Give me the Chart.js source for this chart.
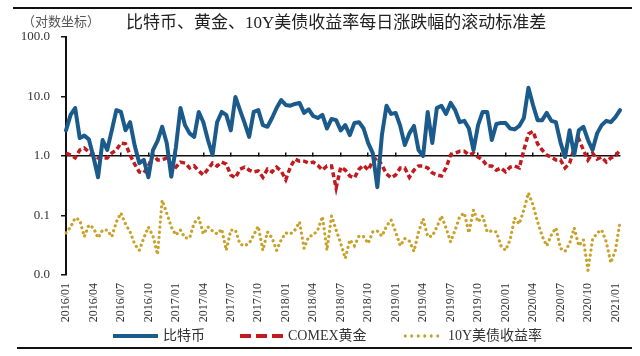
<!DOCTYPE html>
<html><head><meta charset="utf-8">
<script src="https://cdn.jsdelivr.net/npm/chart.js@4.4.1/dist/chart.umd.min.js"></script>
<style>
html,body{margin:0;padding:0;background:#fff;}
#wrap{position:relative;width:640px;height:356px;overflow:hidden;font-family:"Liberation Serif","Noto Sans CJK SC",serif;}
canvas{position:absolute;left:0;top:0;}
.rule{position:absolute;background:#111;}
.t{position:absolute;white-space:nowrap;line-height:1;}
.sw{position:absolute;}
</style></head><body>
<div id="wrap">
<canvas id="c" width="640" height="356"></canvas>
<div class="rule" style="left:13px;top:7px;width:619px;height:2px"></div>
<div class="t" style="left:22px;top:15px;font-size:13px;color:#555">（对数坐标）</div>
<div class="t" style="left:126px;top:14px;font-size:17px;color:#222">比特币、黄金、10Y美债收益率每日涨跌幅的滚动标准差</div>
<div class="sw" style="left:113px;top:334px;width:45px;height:4px;background:#1b5b8c"></div>
<div class="t" style="left:163px;top:329px;font-size:14px;color:#333">比特币</div>
<div class="sw" style="left:240px;top:334px;width:43px;height:4px;background:repeating-linear-gradient(90deg,#c21a1f 0 11px,transparent 11px 16px)"></div>
<div class="t" style="left:288px;top:329px;font-size:14px;color:#333">COMEX黄金</div>
<div class="sw" style="left:402px;top:334px;width:38px;height:4px;background:radial-gradient(circle,#c9a22c 1.5px,transparent 1.8px) 0 0/6.5px 4px repeat-x"></div>
<div class="t" style="left:448px;top:329px;font-size:14px;color:#333">10Y美债收益率</div>
<div class="rule" style="left:17px;top:347px;width:615px;height:2px"></div>
</div>
<script>
// quarterly tick labels
const tickLabels = ['2016/01','2016/04','2016/07','2016/10','2017/01','2017/04','2017/07','2017/10',
  '2018/01','2018/04','2018/07','2018/10','2019/01','2019/04','2019/07','2019/10',
  '2020/01','2020/04','2020/07','2020/10','2021/01'];
const yTicks = [0.01, 0.1, 1, 10, 100];
const yTickLabels = ['0.0','0.1','1.0','10.0','100.0'];
const seriesNames = ['比特币','COMEX黄金','10Y美债收益率'];

// semimonthly observation dates (2016/01 .. 2021/01)
const categories = [];
for (let y = 2016; y <= 2021; y++) {
  for (let m = 1; m <= 12; m++) {
    for (const d of ['01','16']) {
      if (categories.length < 122) categories.push(y + '/' + String(m).padStart(2,'0') + '/' + d);
    }
  }
}

const btc = [2.7,4.9,6.4,2.0,2.2,1.9,0.96,0.44,1.86,1.26,
  2.7,5.9,5.5,2.7,3.7,1.5,0.76,0.86,0.44,1.26,
  1.8,3.1,1.65,0.45,1.4,6.4,3.3,2.4,2.1,5.5,
  3.7,1.86,1.04,3.7,5.5,4.9,2.7,9.8,5.9,3.6,
  2.1,5.5,5.9,3.3,3.1,4.35,6.4,8.7,7.2,7.0,
  7.5,7.8,5.3,6.1,4.7,4.35,4.9,2.9,4.2,4.0,
  2.7,3.3,2.25,3.6,3.7,2.9,1.65,1.12,0.30,2.25,
  7.0,5.1,5.3,3.2,1.53,2.4,3.2,1.26,1.0,5.5,
  1.65,6.4,7.0,5.1,7.8,5.9,3.7,3.9,2.9,1.26,
  3.3,5.5,5.5,1.86,3.45,3.6,3.6,2.9,2.8,3.2,
  4.35,14,7.2,4.0,4.0,5.3,3.9,3.7,1.7,0.96,
  2.7,1.04,2.7,3.1,1.86,1.26,2.4,3.3,3.9,3.7,
  4.5,5.9];

const gold = [1.12,1.04,0.93,1.26,1.36,1.17,1.0,0.93,0.93,0.93,
  1.12,1.26,1.65,1.6,1.04,0.73,0.54,0.52,0.68,1.04,
  0.86,0.86,0.93,0.73,0.65,0.79,0.76,0.63,0.68,0.56,
  0.48,0.6,0.76,0.68,0.79,0.73,0.48,0.43,0.6,0.65,
  0.58,0.54,0.56,0.44,0.6,0.54,0.65,0.56,0.40,0.65,
  0.89,0.82,0.82,0.76,0.79,0.7,0.58,0.68,0.68,0.29,
  0.65,0.58,0.46,0.43,0.6,0.7,0.58,0.82,0.93,0.7,
  0.5,0.43,0.48,0.63,0.63,0.44,0.58,0.68,0.68,0.63,
  0.52,0.48,0.46,0.63,1.04,1.12,1.2,1.2,1.04,1.12,
  0.96,0.86,0.68,0.68,0.58,0.63,0.54,0.65,0.68,0.63,
  1.26,2.35,2.6,1.6,1.26,1.04,0.96,0.86,0.86,0.63,
  0.76,1.36,1.93,1.26,0.86,1.12,0.89,0.96,0.79,0.93,
  1.0,1.26];

const ust = [0.051,0.064,0.091,0.084,0.044,0.069,0.062,0.042,0.057,0.057,
  0.044,0.078,0.11,0.072,0.053,0.033,0.026,0.042,0.064,0.045,
  0.022,0.18,0.11,0.064,0.047,0.057,0.042,0.042,0.075,0.091,
  0.049,0.064,0.055,0.049,0.059,0.026,0.057,0.057,0.033,0.031,
  0.034,0.047,0.066,0.026,0.053,0.042,0.026,0.039,0.051,0.049,
  0.057,0.078,0.028,0.044,0.047,0.057,0.096,0.026,0.098,0.057,
  0.034,0.019,0.039,0.031,0.045,0.044,0.034,0.053,0.055,0.045,
  0.066,0.084,0.053,0.031,0.041,0.037,0.025,0.053,0.088,0.044,
  0.045,0.064,0.098,0.062,0.036,0.057,0.096,0.11,0.051,0.124,
  0.078,0.098,0.053,0.055,0.053,0.031,0.026,0.039,0.091,0.072,
  0.124,0.24,0.15,0.078,0.045,0.031,0.047,0.062,0.028,0.025,
  0.034,0.062,0.031,0.039,0.012,0.039,0.051,0.057,0.036,0.016,
  0.026,0.078];

const quarterTicks = s => { s.ticks = tickLabels.map((l, k) => ({ value: k * 6 })); };
const serif = '"Liberation Serif", "Noto Sans CJK SC", serif';

new Chart(document.getElementById('c'), {
  type: 'line',
  data: {
    labels: categories,
    datasets: [
      { label: seriesNames[0], data: btc, borderColor: '#1b5b8c', borderWidth: 4, pointRadius: 0, tension: 0, borderJoinStyle: 'round', borderCapStyle: 'round' },
      { label: seriesNames[1], data: gold, borderColor: '#c21a1f', borderWidth: 3.5, borderDash: [5, 3], pointRadius: 0, tension: 0 },
      { label: seriesNames[2], data: ust, borderColor: '#c9a22c', borderWidth: 3.2, borderDash: [0.1, 5], borderCapStyle: 'round', pointRadius: 0, tension: 0 }
    ]
  },
  options: {
    responsive: false,
    animation: false,
    devicePixelRatio: 1,
    layout: { padding: { left: 10, right: 20, top: 37, bottom: 0 } },
    plugins: { legend: { display: false }, tooltip: { enabled: false } },
    scales: {
      x: {
        type: 'category', position: 'bottom', offset: false,
        grid: { display: false, drawTicks: false },
        border: { display: false },
        afterBuildTicks: quarterTicks,
        afterFit: s => { s.height = 81; },
        ticks: {
          autoSkip: false, maxRotation: 90, minRotation: 90, padding: 8,
          color: '#333', font: { family: serif, size: 12 },
          callback: (v, i) => tickLabels[i]
        }
      },
      x2: {
        type: 'category', position: { y: 1 }, offset: false,
        grid: { drawOnChartArea: false, drawTicks: true, tickLength: -4, color: '#111', lineWidth: 1.5 },
        border: { display: true, color: '#111', width: 1.5 },
        afterBuildTicks: quarterTicks,
        afterFit: s => { s.height = 0; },
        ticks: { display: false, autoSkip: false }
      },
      y: {
        type: 'logarithmic', position: 'left', min: 0.01, max: 100,
        afterBuildTicks: s => { s.ticks = yTicks.map(v => ({ value: v })); },
        afterFit: s => { s.width = 56; },
        grid: { drawOnChartArea: false, drawTicks: true, tickLength: 5, color: '#111', lineWidth: 1.5 },
        border: { display: true, color: '#111', width: 2 },
        ticks: {
          padding: 11, color: '#333', font: { family: serif, size: 13 },
          callback: v => {
            const k = yTicks.findIndex(t => Math.abs(Math.log10(t) - Math.log10(v)) < 1e-6);
            return k >= 0 ? yTickLabels[k] : null;
          }
        }
      }
    }
  }
});
</script>
</body></html>
